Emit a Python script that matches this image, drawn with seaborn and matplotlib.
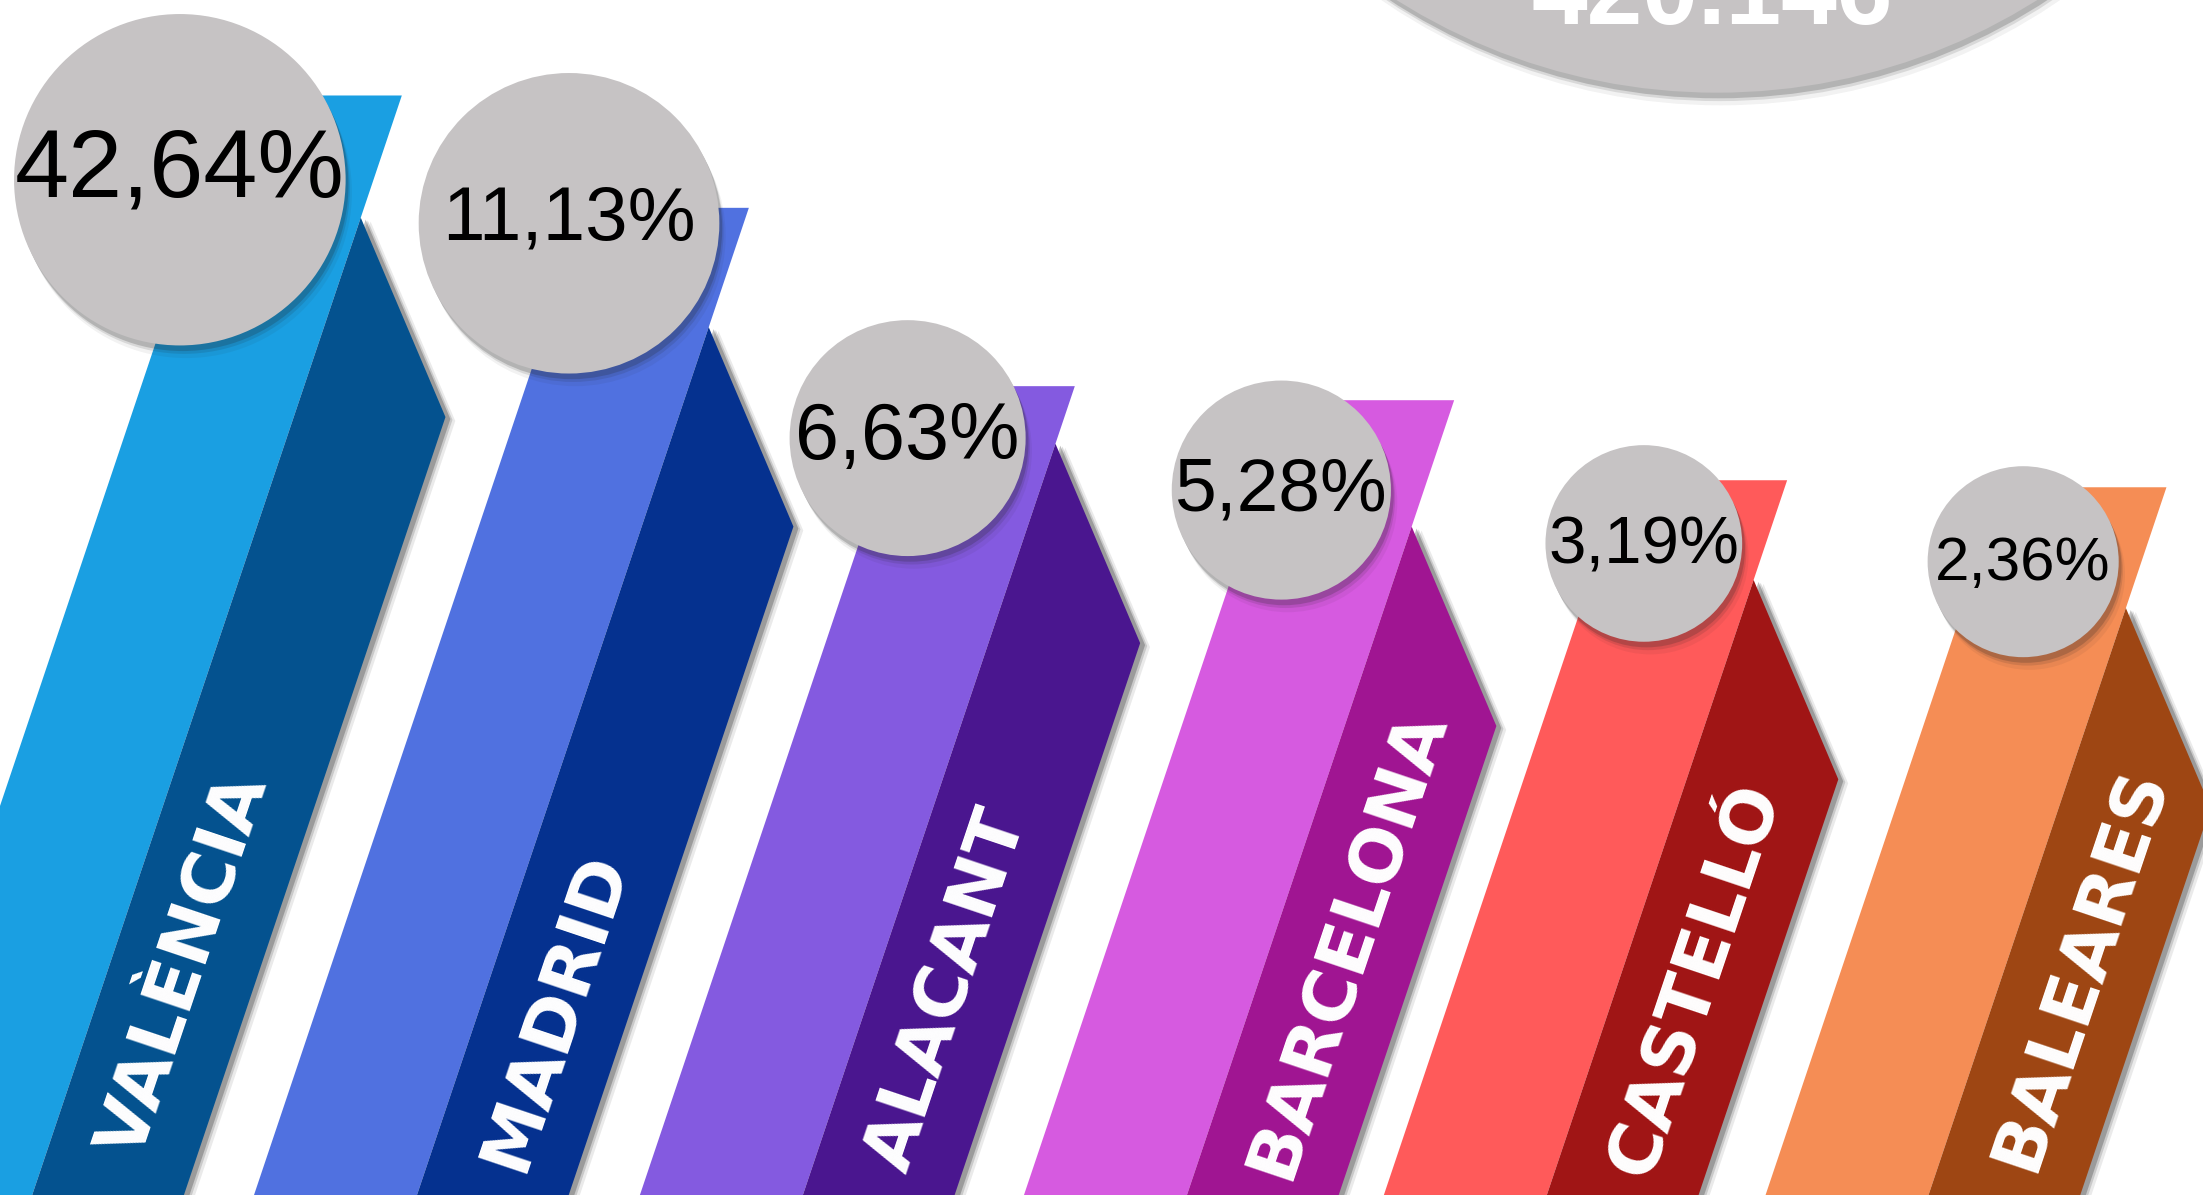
import matplotlib
matplotlib.use("Agg")
import matplotlib.pyplot as plt
from matplotlib.patches import Polygon, Circle
import seaborn as sns

# ---------------- data ----------------
regions = ["VALÈNCIA", "MADRID", "ALACANT", "BARCELONA", "CASTELLÓ", "BALEARES"]
shares = [42.64, 11.13, 6.63, 5.28, 3.19, 2.36]
total_label = "420.146"

light_colors = ["#1A9FE2", "#5071E0", "#845AE0", "#D65AE0", "#FF5A5A", "#F58D55"]
dark_colors = ["#04528F", "#05318F", "#4A168F", "#A01592", "#A01515", "#9E4613"]

# ---------------- layout (canvas units) ----------------
W, H = 1568, 851
ribbon_top = [68, 148, 275, 285, 342, 347]
ribbon_top_x = [286, 533, 765, 1035, 1272, 1542]
ribbon_tip_y = [297, 375, 458, 517, 555, 575]
fold_gap = 142
slope = 0.336
light_w = 116
dark_w = 108
bubble_xy = [(128, 128), (405, 159), (646, 312), (912, 349), (1170, 387), (1440, 400)]
bubble_r = [118, 107, 84, 78, 70, 68]
pct_size = [70, 55, 57, 54, 48.5, 44.6]
pct_dy = [-6, -2, 0, 1, 2, 2]
label_y = [688, 720, 705, 672, 698, 690]
label_size = 52

sns.set_theme(style="white")
plt.rcParams["font.family"] = ["Liberation Sans", "DejaVu Sans"]

fig = plt.figure(figsize=(22.03, 11.95), dpi=100)
ax = fig.add_axes([0, 0, 1, 1])
ax.set_xlim(0, W)
ax.set_ylim(H, 0)
ax.set_axis_off()
fig.patch.set_facecolor("white")

yb = H + 60


def bx(i, y):
    return ribbon_top_x[i] - slope * (y - ribbon_top[i])


for i in range(len(regions)):
    top = ribbon_top[i]
    yt = ribbon_tip_y[i]
    yf = yt - fold_gap
    z = 2 + i * 0.01
    light = [(ribbon_top_x[i] - light_w, top), (ribbon_top_x[i], top),
             (bx(i, yb), yb), (bx(i, yb) - light_w, yb)]
    ax.add_patch(Polygon(light, closed=True, fc=light_colors[i], ec="none", zorder=z))
    dark = [(bx(i, yf), yf), (bx(i, yt) + dark_w, yt),
            (bx(i, yb) + dark_w, yb), (bx(i, yb), yb)]
    for k, a in [(7, 0.10), (5, 0.18), (3.5, 0.30)]:
        sh = [(x + k, y + k * 0.4) for x, y in dark]
        ax.add_patch(Polygon(sh, closed=True, fc="#333333", ec="none", alpha=a, zorder=z + 0.001))
    ax.add_patch(Polygon(dark, closed=True, fc=dark_colors[i], ec="none", zorder=z + 0.002))
    # label
    cy = label_y[i]
    cx = bx(i, cy) + dark_w / 2
    ax.text(cx, cy, regions[i], rotation=71.4, rotation_mode="anchor",
            ha="center", va="center", color="white", fontsize=label_size,
            fontweight="bold", family=["DejaVu Sans"], zorder=z + 0.003)

# bubbles with percentages
for i in range(len(regions)):
    (cx, cy), r = bubble_xy[i], bubble_r[i]
    for k, a in [(9, 0.06), (6, 0.12), (4, 0.2)]:
        ax.add_patch(Circle((cx + k * 0.5, cy + k), r, fc="#222222", ec="none", alpha=a, zorder=5))
    ax.add_patch(Circle((cx, cy), r, fc="#C6C3C4", ec="none", zorder=6))
    txt = f"{shares[i]:.2f}".replace(".", ",") + "%"
    ax.text(cx, cy + pct_dy[i], txt, ha="center", va="center", fontsize=pct_size[i],
            color="black", zorder=7)

# big total bubble at top
bcx, bcy, br = 1222, -361, 427
for k, a in [(9, 0.06), (6, 0.12), (4, 0.2)]:
    ax.add_patch(Circle((bcx + k * 0.3, bcy + k), br, fc="#222222", ec="none", alpha=a, zorder=5))
ax.add_patch(Circle((bcx, bcy), br, fc="#C6C3C4", ec="none", zorder=6))
ax.text(1219, 17, total_label, ha="center", va="baseline", fontsize=72,
        fontweight="bold", color="white", zorder=7)

fig.savefig("out.png", dpi=100, facecolor="white")
